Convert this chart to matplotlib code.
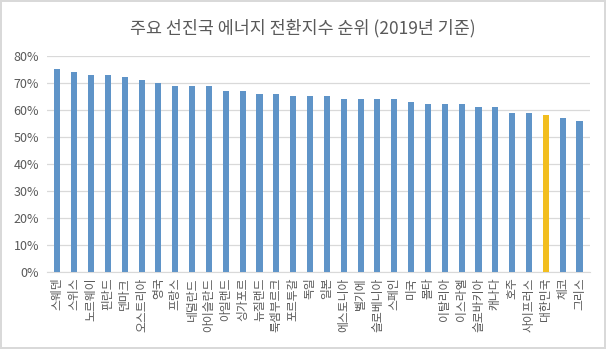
import numpy as np
import matplotlib
matplotlib.use("Agg")
import matplotlib.pyplot as plt
from matplotlib.ticker import FuncFormatter

plt.rcParams['font.family'] = ['Noto Sans CJK KR', 'DejaVu Sans']

countries = ["스웨덴", "스위스", "노르웨이", "핀란드", "덴마크", "오스트리아", "영국",
             "프랑스", "네덜란드", "아이슬란드", "아일랜드", "싱가포르", "뉴질랜드",
             "룩셈부르크", "포르투갈", "독일", "일본", "에스토니아", "벨기에", "슬로베니아",
             "스페인", "미국", "몰타", "이탈리아", "이스라엘", "슬로바키아", "캐나다",
             "호주", "사이프러스", "대한민국", "체코", "그리스"]
scores = [0.75, 0.74, 0.73, 0.73, 0.72, 0.71, 0.70, 0.69, 0.69, 0.69, 0.67, 0.67,
          0.66, 0.66, 0.65, 0.65, 0.65, 0.64, 0.64, 0.64, 0.64, 0.63, 0.62, 0.62,
          0.62, 0.61, 0.61, 0.59, 0.59, 0.58, 0.57, 0.56]
highlight = "대한민국"

blue = "#5F94C8"
yellow = "#F2BE1F"
grey_text = "#595959"

fig = plt.figure(figsize=(6.06, 3.49), dpi=100)
fig.patch.set_edgecolor("#D9D9D9")
fig.patch.set_linewidth(1.5)
ax = fig.add_axes([0.078, 0.221, 0.895, 0.619])

x = np.arange(len(countries))
colors = [yellow if c == highlight else blue for c in countries]
ax.bar(x, scores, width=0.36, color=colors, zorder=3)

ax.set_ylim(0, 0.8)
ax.set_yticks(np.arange(0, 0.81, 0.1))
ax.yaxis.set_major_formatter(FuncFormatter(lambda v, p: f"{v * 100:.0f}%"))
ax.set_xlim(-0.6, len(countries) - 0.4)
ax.set_xticks(x)
ax.set_xticklabels(countries, rotation=90, fontsize=8.5, color=grey_text)
ax.tick_params(axis='y', labelsize=9, colors=grey_text, length=0, pad=6)
ax.tick_params(axis='x', length=0, pad=4)
ax.grid(axis='y', color="#D9D9D9", linewidth=0.9, zorder=0)

for s in ["top", "right", "left"]:
    ax.spines[s].set_visible(False)
ax.spines["bottom"].set_color("#D9D9D9")

fig.text(0.5, 0.92, "주요 선진국 에너지 전환지수 순위 (2019년 기준)",
         ha="center", va="center", fontsize=12.5, color=grey_text)

fig.savefig("out.png", dpi=100, edgecolor=fig.get_edgecolor())
